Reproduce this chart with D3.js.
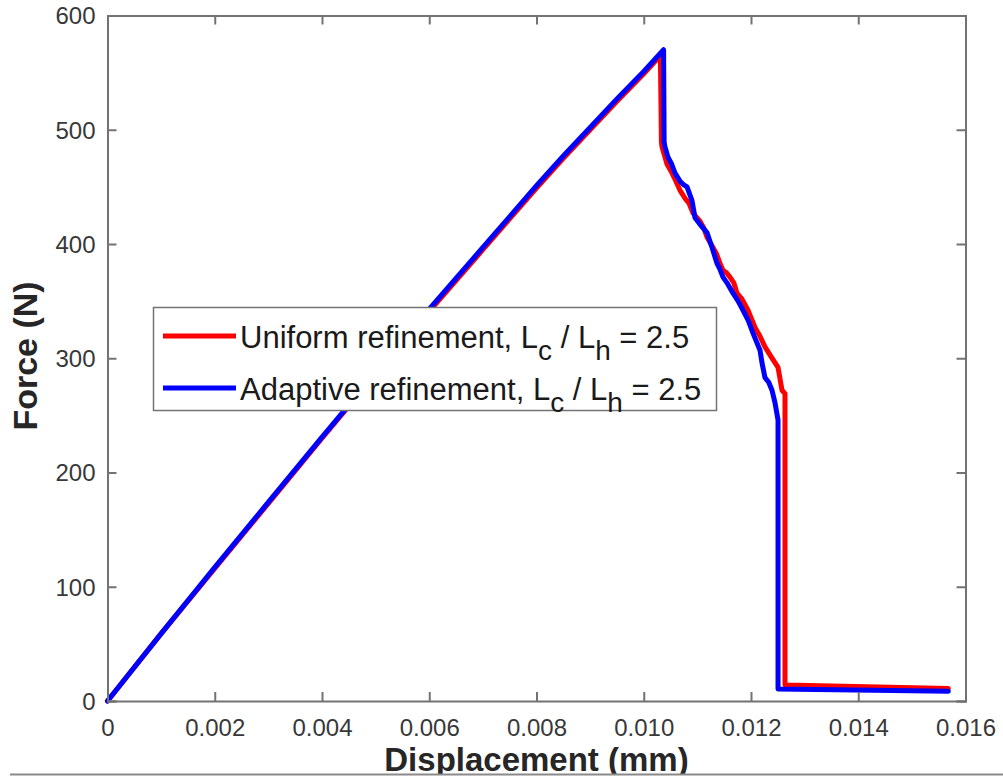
<!DOCTYPE html>
<html>
<head>
<meta charset="utf-8">
<script src="https://cdn.jsdelivr.net/npm/d3@7"></script>
<style>
  html, body { margin: 0; padding: 0; background: #fff; }
  svg { display: block; }
  text { font-family: "Liberation Sans", Arial, Helvetica, sans-serif; }
</style>
</head>
<body>
<svg id="chart" width="1003" height="778"></svg>
<script>
// Force–displacement response, uniform vs adaptive mesh refinement
const uniformDisp = [0, 0.001, 0.002, 0.003, 0.004, 0.005, 0.006, 0.007, 0.008, 0.0085, 0.009, 0.0095, 0.010, 0.01031,
  0.01033, 0.01034, 0.010433, 0.010527, 0.010600, 0.010676, 0.010769, 0.010840, 0.010918, 0.011049, 0.011120,
  0.011180, 0.011291, 0.011360, 0.011422, 0.011478, 0.011540, 0.011608, 0.011680, 0.011739, 0.011830,
  0.011944, 0.012075, 0.012160, 0.012261, 0.012380, 0.012504, 0.012578, 0.012634, 0.012634, 0.01568];
const uniformForce = [0, 59, 116, 173, 230, 286, 341, 395, 449, 475, 500, 525, 549, 565,
  489, 485, 470, 462, 455, 447, 440, 436, 427, 420, 414,
  406, 397, 391, 383, 377, 375, 371, 366, 357, 352,
  342, 327, 320, 310, 301, 292, 272, 269, 14, 11];

const adaptiveDisp = [0, 0.001, 0.002, 0.003, 0.004, 0.005, 0.006, 0.007, 0.008, 0.0085, 0.009, 0.0095, 0.010, 0.01037,
  0.01038, 0.010396, 0.010452, 0.010520, 0.010583, 0.010676, 0.010740, 0.010807, 0.010900, 0.010956, 0.011020,
  0.011087, 0.011180, 0.011273, 0.011366, 0.011420, 0.011478, 0.011552, 0.011664, 0.011760, 0.011851,
  0.011950, 0.012037, 0.012168, 0.012205, 0.012261, 0.012330, 0.012392, 0.012448, 0.012504, 0.012504, 0.01568];
const adaptiveForce = [0, 59, 117, 174, 231, 287, 343, 397, 451, 477, 502, 527, 551, 570,
  489, 485, 476, 470, 462, 455, 452, 450, 438, 423, 419,
  415, 410, 397, 383, 378, 371, 366, 357, 350, 342,
  333, 322, 307, 296, 283, 279, 272, 261, 246, 10.5, 8.5];

const xTicks = [0, 0.002, 0.004, 0.006, 0.008, 0.010, 0.012, 0.014, 0.016];
const xTickLabels = ["0", "0.002", "0.004", "0.006", "0.008", "0.010", "0.012", "0.014", "0.016"];
const yTicks = [0, 100, 200, 300, 400, 500, 600];

const seriesNames = ["Uniform refinement", "Adaptive refinement"];
const seriesColors = ["#ff0000", "#0000ff"];

const svg = d3.select("#chart");
const plot = { left: 107.5, right: 965.5, top: 15.5, bottom: 701 };

const x = d3.scaleLinear().domain([0, 0.016]).range([plot.left, plot.right]);
const y = d3.scaleLinear().domain([0, 600]).range([plot.bottom, plot.top]);

const axisColor = "#737373";
const labelColor = "#383838";
const tickLen = 9;

// Data curves (red first, blue on top)
const line = d3.line().x(d => x(d[0])).y(d => y(d[1]));
const series = [
  d3.zip(uniformDisp, uniformForce),
  d3.zip(adaptiveDisp, adaptiveForce)
];
series.forEach((pts, i) => {
  svg.append("path")
    .datum(pts)
    .attr("d", line)
    .attr("fill", "none")
    .attr("stroke", seriesColors[i])
    .attr("stroke-width", 5)
    .attr("stroke-linejoin", "round")
    .attr("stroke-linecap", "round");
});

// Axes with inward ticks on all four sides
const axes = svg.append("g");
const xb = axes.append("g").attr("transform", `translate(0,${plot.bottom})`)
  .call(d3.axisBottom(x).tickValues(xTicks).tickSize(-tickLen).tickFormat((d, i) => xTickLabels[i]));
const xt = axes.append("g").attr("transform", `translate(0,${plot.top})`)
  .call(d3.axisTop(x).tickValues(xTicks).tickSize(-tickLen).tickFormat(""));
const yl = axes.append("g").attr("transform", `translate(${plot.left},0)`)
  .call(d3.axisLeft(y).tickValues(yTicks).tickSize(-tickLen).tickFormat(d3.format("d")));
const yr = axes.append("g").attr("transform", `translate(${plot.right},0)`)
  .call(d3.axisRight(y).tickValues(yTicks).tickSize(-tickLen).tickFormat(""));

[xb, xt, yl, yr].forEach(g => {
  g.select(".domain").attr("stroke", axisColor).attr("stroke-width", 2);
  g.selectAll(".tick line").attr("stroke", axisColor).attr("stroke-width", 2);
  g.selectAll(".tick text").attr("fill", labelColor).attr("font-size", 24)
    .attr("font-family", "'Liberation Sans', Arial, sans-serif");
});
xb.selectAll(".tick text").attr("y", 34.5).attr("dy", null);
yl.selectAll(".tick text").attr("x", -12).attr("dy", "0.35em");

// Axis titles
svg.append("text")
  .attr("x", (plot.left + plot.right) / 2)
  .attr("y", 770.5)
  .attr("text-anchor", "middle")
  .attr("font-size", 33)
  .attr("font-weight", "bold")
  .attr("fill", "#262626")
  .text("Displacement (mm)");

svg.append("text")
  .attr("transform", "translate(37,356) rotate(-90)")
  .attr("text-anchor", "middle")
  .attr("font-size", 34)
  .attr("font-weight", "bold")
  .attr("fill", "#262626")
  .text("Force (N)");

// Frame edge along the bottom of the figure
svg.append("rect").attr("x", 0).attr("y", 775).attr("width", 1003).attr("height", 3).attr("fill", "#fff");
svg.append("line").attr("x1", 10).attr("x2", 1003).attr("y1", 774.5).attr("y2", 774.5)
  .attr("stroke", "#8a8a8a").attr("stroke-width", 2);

// Legend
const legend = svg.append("g");
legend.append("rect")
  .attr("x", 153.5).attr("y", 307.5).attr("width", 563).attr("height", 103)
  .attr("fill", "#fff").attr("stroke", axisColor).attr("stroke-width", 1.5);

const legendRows = [336, 388];
seriesNames.forEach((name, i) => {
  const yy = legendRows[i];
  legend.append("line")
    .attr("x1", 163).attr("x2", 236).attr("y1", yy).attr("y2", yy)
    .attr("stroke", seriesColors[i]).attr("stroke-width", 5);
  const t = legend.append("text")
    .attr("x", 240).attr("y", yy + 12)
    .attr("font-size", 31).attr("fill", "#1a1a1a");
  t.append("tspan").text(name + ", L");
  t.append("tspan").attr("dy", 12).attr("font-size", 28).text("c");
  t.append("tspan").attr("dy", -12).text(" / L");
  t.append("tspan").attr("dy", 12).attr("font-size", 28).text("h");
  t.append("tspan").attr("dy", -12).text(" = 2.5");
});
</script>
</body>
</html>
